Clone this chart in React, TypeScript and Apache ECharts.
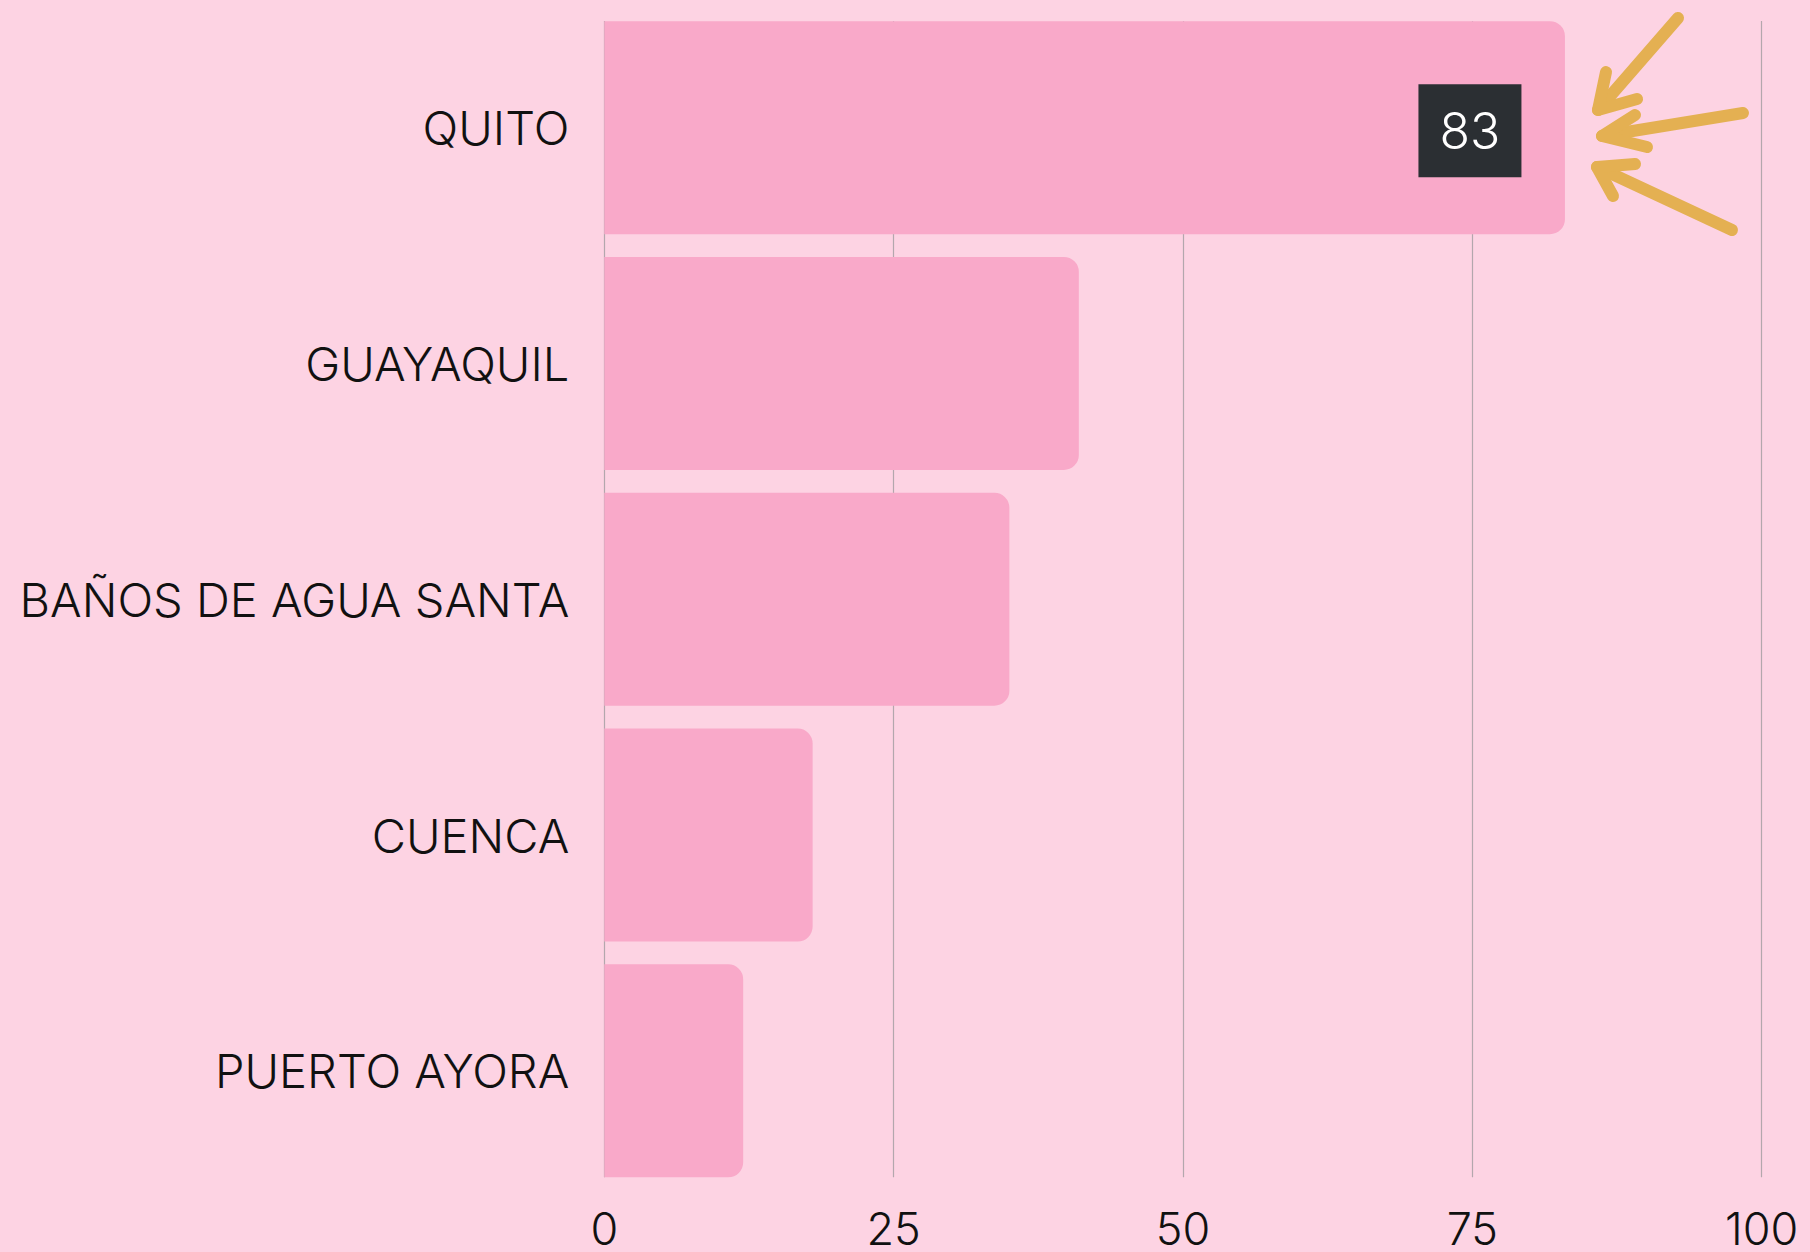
import React, { useEffect, useRef } from "react";
import * as echarts from "echarts";

const categories = ["QUITO", "GUAYAQUIL", "BAÑOS DE AGUA SANTA", "CUENCA", "PUERTO AYORA"];
const values = [83, 41, 35, 18, 12];
const tickValues = [0, 25, 50, 75, 100];
const highlightIndex = 0;

const BG = "#fdd3e3";
const BAR = "#f9a9c9";
const ARROW = "#e4b052";

export default function App() {
  const ref = useRef<HTMLDivElement>(null);
  useEffect(() => {
    document.body.style.margin = "0";
    const chart = echarts.init(ref.current!, null, { renderer: "svg" });
    const left = 604.3;
    const right = 1810 - 1761.7;
    const arrowStyle = { stroke: ARROW, lineWidth: 12, lineCap: "round", lineJoin: "round", fill: null };
    const arrows = [
      [[1678, 18], [1598, 110]],
      [[1606, 72], [1598, 110], [1637, 99]],
      [[1743, 113], [1602, 136]],
      [[1635, 115], [1602, 136], [1647, 147]],
      [[1732, 230], [1597, 167]],
      [[1635, 164], [1597, 167], [1613, 196]],
    ];
    chart.setOption({
      animation: false,
      backgroundColor: BG,
      grid: [
        { left, right, top: 9.75, height: 1179, containLabel: false },
        { left, right, top: 21, height: 1156.3, containLabel: false },
      ],
      xAxis: [
        {
          gridIndex: 0, type: "value", min: 0, max: 100, interval: 25,
          axisLine: { show: false }, axisTick: { show: false }, axisLabel: { show: false }, splitLine: { show: false },
        },
        {
          gridIndex: 1, type: "value", min: 0, max: 100, interval: 25,
          axisLine: { show: false }, axisTick: { show: false },
          axisLabel: { show: true, color: "#111", fontFamily: "Inter", fontWeight: 300, fontSize: 45, margin: 29 },
          splitLine: { show: true, lineStyle: { color: "#b3a7ad", width: 1.2 } },
        },
      ],
      yAxis: [
        {
          gridIndex: 0, type: "category", data: categories, inverse: true,
          axisLine: { show: false }, axisTick: { show: false },
          axisLabel: { color: "#111", fontFamily: "Inter", fontWeight: 300, fontSize: 47, margin: 35, padding: [8, 0, 0, 0] },
        },
        { gridIndex: 1, type: "value", show: false },
      ],
      series: [
        {
          type: "bar",
          xAxisIndex: 0,
          yAxisIndex: 0,
          barWidth: 213,
          z: 3,
          itemStyle: { color: BAR, borderRadius: [0, 15, 15, 0] },
          data: values.map((v, i) =>
            i === highlightIndex
              ? {
                  value: v,
                  label: {
                    show: true,
                    position: "insideRight",
                    distance: 45,
                    offset: [-50, 3],
                    formatter: "{c}",
                    color: "#fff",
                    fontFamily: "Inter",
                    fontWeight: 300,
                    fontSize: 50,
                    backgroundColor: "#2b2f33",
                    width: 103,
                    height: 93,
                    lineHeight: 93,
                    align: "center",
                    verticalAlign: "middle",
                  },
                }
              : { value: v }
          ),
        },
      ],
      graphic: arrows.map((pts) => ({
        type: "polyline",
        z: 10,
        shape: { points: pts },
        style: arrowStyle,
      })),
    });
    void tickValues;
    return () => chart.dispose();
  }, []);
  return <div ref={ref} style={{ width: 1810, height: 1252 }} />;
}
